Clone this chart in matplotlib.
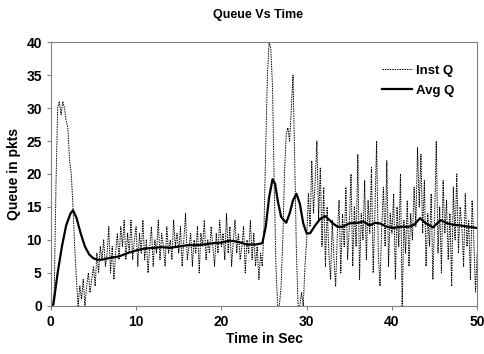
import numpy as np
import matplotlib
matplotlib.use("Agg")
import matplotlib.pyplot as plt

inst_q = (
    [0, 0, 2, 18, 30, 31, 29, 31, 30, 28, 27, 22, 20, 15, 9, 4, 0, 3, 1, 4, 0, 3, 5, 2, 4]
    + [6, 3, 8, 5, 9, 7, 10, 6, 8, 12, 5, 9, 4, 8, 11, 7, 12, 9, 13, 7, 11, 8, 13, 7, 10]
    + [12, 6, 11, 8, 13, 7, 10, 5, 9, 12, 6, 10, 8, 13, 7, 11, 9, 6, 12, 8, 10, 7, 13, 9, 11]
    + [8, 12, 6, 10, 14, 7, 9, 11, 6, 10, 8, 12, 5, 11, 9, 13, 7, 10, 8, 12, 9, 6, 11, 8, 13]
    + [9, 11, 7, 14, 8, 12, 6, 10, 13, 8, 11, 7, 9, 12, 5, 10, 8, 13, 7, 11, 6, 9, 4, 8, 6]
    + [12, 24, 35, 40, 39, 33, 18, 6, 0, 0, 3, 10, 20, 26, 27, 25, 30, 35, 22, 8, 0, 0, 2, 0, 6]
    + [10, 17, 12, 22, 14, 19, 25, 13, 21, 9, 18, 6, 15, 8, 4, 13, 7, 3, 11, 16, 5, 14, 9, 18, 7]
    + [12, 20, 6, 15, 9, 23, 4, 14, 10, 19, 7, 16, 11, 21, 5, 14, 25, 8, 3, 12, 18, 9, 22, 6, 14]
    + [11, 17, 4, 15, 9, 20, 0, 13, 8, 16, 6, 14, 10, 18, 12, 24, 15, 23, 11, 19, 6, 14, 9, 17, 4]
    + [13, 25, 8, 15, 5, 19, 11, 16, 7, 14, 3, 18, 10, 20, 8, 15, 12, 6, 17, 9, 13, 4, 16, 10, 2]
    + [8]
)
inst_t = np.round(np.arange(len(inst_q)) * 0.2, 1)

# averaged queue
avg_t = [0, 0.3, 0.8, 1.3, 1.8, 2.3, 2.6, 3.0, 3.5, 4.0, 4.5, 5.0, 5.5, 6.0, 7.0,
         8.0, 9.0, 10.0, 11.0, 12.0, 13.0, 14.0, 15.0, 16.0, 17.0, 18.0, 19.0,
         20.0, 21.0, 22.0, 23.0, 24.0, 24.8, 25.2, 25.6, 26.0, 26.3, 26.6, 27.0,
         27.6, 28.0, 28.4, 28.8, 29.2, 29.6, 30.0, 30.4, 31.0, 31.6, 32.2, 33.0,
         33.6, 34.2, 35.0, 36.0, 36.6, 37.4, 38.0, 38.6, 39.4, 40.1, 41.0, 42.0,
         42.6, 43.3, 44.0, 44.8, 45.7, 46.5, 47.2, 48.0, 49.0, 50.0]
avg_q = [0, 0.2, 5.0, 9.0, 12.2, 14.0, 14.5, 13.4, 11.0, 9.0, 7.8, 7.2, 7.0, 7.0, 7.3,
         7.5, 8.0, 8.4, 8.7, 8.8, 8.9, 8.8, 9.0, 9.2, 9.2, 9.3, 9.5,
         9.6, 9.9, 9.7, 9.3, 9.3, 9.5, 12, 16.5, 19.2, 18.5, 16, 13.5,
         12.6, 14, 16, 17, 15.5, 12.5, 11, 11, 12.2, 13.2, 13.6, 12.6,
         12.0, 12.0, 12.5, 12.6, 12.8, 12.2, 12.6, 12.5, 12.0, 11.8, 12.0, 12.0,
         12.3, 13.3, 12.5, 11.9, 13.0, 12.5, 12.3, 12.2, 12.0, 11.8]

plt.rcParams["font.family"] = ["Liberation Sans", "DejaVu Sans"]
plt.rcParams["font.weight"] = "bold"

fig = plt.figure(figsize=(4.84, 3.54), dpi=100)
ax = fig.add_axes([0.105, 0.136, 0.881, 0.745])

ax.plot(inst_t, inst_q, color="black", lw=0.7, linestyle=(0, (1.5, 1)), label="Inst Q")
ax.plot(avg_t, avg_q, color="black", lw=1.6, label="Avg Q")

ax.set_xlim(0, 50)
ax.set_ylim(0, 40)
ax.set_xticks([0, 10, 20, 30, 40, 50])
ax.set_yticks([0, 5, 10, 15, 20, 25, 30, 35, 40])
ax.tick_params(labelsize=10, length=3, color="#808080", width=0.8)
for s in ax.spines.values():
    s.set_color("#808080")
    s.set_linewidth(0.8)

ax.set_xlabel("Time in Sec", fontsize=10, fontweight="bold", labelpad=2)
ax.set_ylabel("Queue in pkts", fontsize=10, fontweight="bold", labelpad=4)
fig.suptitle("Queue Vs Time", fontsize=9, fontweight="bold", x=0.533, y=0.975)

leg = ax.legend(loc="upper right", frameon=False, fontsize=9.5, handlelength=2.3,
                handletextpad=0.3, labelspacing=0.6, borderaxespad=1.3)

fig.savefig("out.png", dpi=100)
plt.close(fig)
